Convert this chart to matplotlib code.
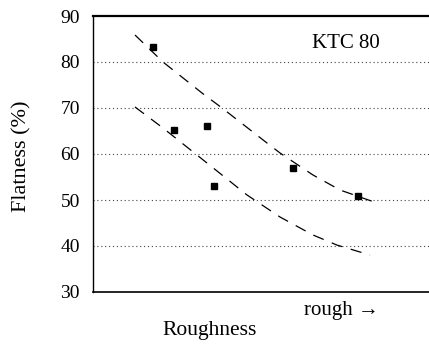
import matplotlib
matplotlib.use("Agg")
import matplotlib.pyplot as plt

# Measured points (x in arbitrary roughness units 0-100)
pts_x = [18.1, 24.4, 34.3, 36.4, 60.2, 79.8]
pts_y = [83.3, 65.2, 66.1, 53.0, 57.0, 50.9]

# Upper dashed trend line
upper_x = [12.65, 21.08, 32.83, 38.86, 52.41, 56.33, 66.27, 74.4, 85.54]
upper_y = [85.87, 80.0, 73.26, 70.0, 62.39, 60.22, 55.43, 52.17, 49.35]

# Lower dashed trend line
lower_x = [12.65, 21.08, 34.34, 46.39, 56.33, 66.27, 73.49, 83.43]
lower_y = [70.22, 65.65, 58.04, 51.09, 46.3, 42.39, 40.2, 38.04]

yticks = [30, 40, 50, 60, 70, 80, 90]
grid_levels = [40, 50, 60, 70, 80]

plt.rcParams['font.family'] = ['Liberation Serif', 'DejaVu Serif']

fig = plt.figure(figsize=(4.29, 3.44), dpi=100)
ax = fig.add_axes([93/429, 52/344, 1 - 93/429, (292-16)/344])

for g in grid_levels:
    ax.axhline(g, color='#444444', lw=0.8, ls=(0, (1, 2.5)), zorder=1)

ax.plot(upper_x, upper_y, color='black', lw=0.9, ls=(0, (9, 7)), zorder=2)
ax.plot(lower_x, lower_y, color='black', lw=0.9, ls=(0, (9, 7)), zorder=2)
ax.plot(pts_x, pts_y, ls='none', marker='s', ms=4.3, color='black', zorder=3)

ax.set_xlim(0, 101.2)
ax.set_ylim(30, 90)
ax.set_yticks(yticks)
ax.set_yticklabels([str(t) for t in yticks], fontsize=14)
ax.set_xticks([])
ax.tick_params(axis='y', length=0, pad=9.4)

ax.spines['right'].set_visible(False)
ax.spines['top'].set_linewidth(1.6)
ax.spines['left'].set_linewidth(1.0)
ax.spines['bottom'].set_linewidth(1.2)

fig.text(22/429, 1 - 156/344, 'Flatness (%)', rotation=90, ha='center', va='center', fontsize=16)
fig.text(210/429, 1 - 331/344, 'Roughness', ha='center', va='center', fontsize=15.5)
fig.text(341/429, 1 - 311/344, 'rough →', ha='center', va='center', fontsize=15)
fig.text(346/429, 1 - 43/344, 'KTC 80', ha='center', va='center', fontsize=15)

fig.savefig('out.png', dpi=100)
